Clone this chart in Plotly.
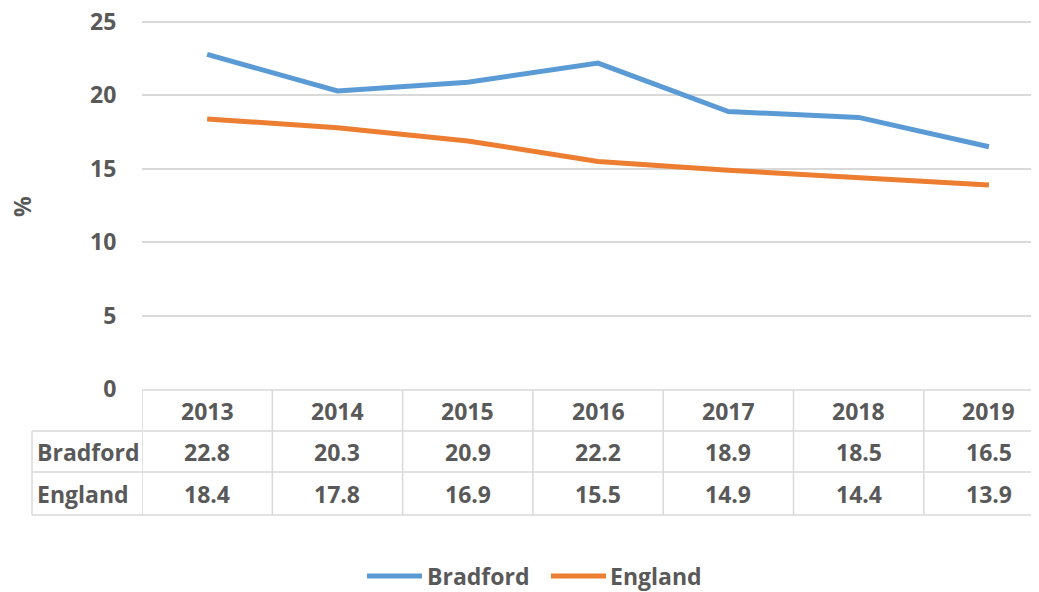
import plotly.graph_objects as go

years = ["2013", "2014", "2015", "2016", "2017", "2018", "2019"]
bradford = [22.8, 20.3, 20.9, 22.2, 18.9, 18.5, 16.5]
england = [18.4, 17.8, 16.9, 15.5, 14.9, 14.4, 13.9]
series_names = ["Bradford", "England"]
series_colors = ["#5B9BD5", "#ED7D31"]
y_ticks = [0, 5, 10, 15, 20, 25]

TEXT = "#595959"
GRID = "#d9d9d9"
FONT = "Open Sans"
FS = 23
OFF = 8  # page body margin

W, H = 1039, 592
y_scale = (389 - 22) / 25.0        # pixels per y unit
plot_bottom = 389 - OFF
T = 7
L = 142 - OFF
B = H - plot_bottom
R = 0
plot_h = H - T - B
plot_w = W - L - R
y_hi = plot_h / y_scale
col_px = 130.3
x_hi = -0.5 + plot_w / col_px

def py(p):  # screen pixel y -> paper y
    return (plot_bottom - (p - OFF)) / plot_h

def px(p):  # screen pixel x -> paper x
    return ((p - OFF) - L) / plot_w

xs = list(range(len(years)))
fig = go.Figure()
for name, vals, col in zip(series_names, [bradford, england], series_colors):
    fig.add_trace(go.Scatter(x=xs, y=vals, name=name, mode="lines",
                             line=dict(color=col, width=5), showlegend=False))

shapes = []
line_style = dict(color=GRID, width=1.5)
shapes.append(dict(type="line", xref="paper", yref="paper", x0=0, x1=1,
                   y0=py(390), y1=py(390), line=line_style))
for rp in [431, 472, 515]:
    shapes.append(dict(type="line", xref="paper", yref="paper", x0=px(32), x1=1,
                       y0=py(rp), y1=py(rp), line=line_style))
shapes.append(dict(type="line", xref="paper", yref="paper", x0=px(32), x1=px(32),
                   y0=py(431), y1=py(515), line=line_style))
for i in range(len(years)):
    xv = i - 0.5
    shapes.append(dict(type="line", xref="x", yref="paper", x0=xv, x1=xv,
                       y0=py(390), y1=py(515), line=line_style))

annotations = []
tfont = dict(family=FONT, size=FS, color=TEXT, weight="bold")
for i, yr in enumerate(years):
    annotations.append(dict(x=i, y=py(411), xref="x", yref="paper", text=yr,
                            showarrow=False, font=tfont, xanchor="center", yanchor="middle"))
    annotations.append(dict(x=i, y=py(452), xref="x", yref="paper", text=f"{bradford[i]:.1f}",
                            showarrow=False, font=tfont, xanchor="center", yanchor="middle"))
    annotations.append(dict(x=i, y=py(494), xref="x", yref="paper", text=f"{england[i]:.1f}",
                            showarrow=False, font=tfont, xanchor="center", yanchor="middle"))
for name, rp in zip(series_names, [452, 494]):
    annotations.append(dict(x=px(35), y=py(rp), xref="paper", yref="paper", text=name,
                            showarrow=False, font=tfont, xanchor="left", yanchor="middle"))
annotations.append(dict(x=px(22), y=py(207), xref="paper", yref="paper", text="%",
                        textangle=-90, showarrow=False, font=tfont,
                        xanchor="center", yanchor="middle"))

# legend drawn manually
leg_y = py(576)
for name, col, x0, x1, tx in zip(series_names, series_colors, [367, 551], [422, 606], [425, 608]):
    shapes.append(dict(type="line", xref="paper", yref="paper", x0=px(x0), x1=px(x1),
                       y0=leg_y, y1=leg_y, line=dict(color=col, width=5)))
    annotations.append(dict(x=px(tx), y=leg_y, xref="paper", yref="paper", text=name,
                            showarrow=False, font=tfont, xanchor="left", yanchor="middle"))

fig.update_layout(
    width=W, height=H,
    margin=dict(l=L, r=R, t=T, b=B, autoexpand=False),
    paper_bgcolor="white", plot_bgcolor="white",
    font=dict(family=FONT, size=FS, color=TEXT),
    shapes=shapes, annotations=annotations,
    showlegend=False,
    xaxis=dict(range=[-0.5, x_hi], showticklabels=False, showgrid=False, zeroline=False,
               showline=False, ticks="", fixedrange=True),
    yaxis=dict(range=[0, y_hi], tickvals=y_ticks, showgrid=True, gridcolor=GRID, gridwidth=1.5,
               zeroline=False, showline=False, ticks="outside", ticklen=20,
               tickcolor="rgba(0,0,0,0)", ticklabeloverflow="allow",
               tickfont=dict(family=FONT, size=FS, color=TEXT, weight="bold")),
)

fig.write_html("out.html")
